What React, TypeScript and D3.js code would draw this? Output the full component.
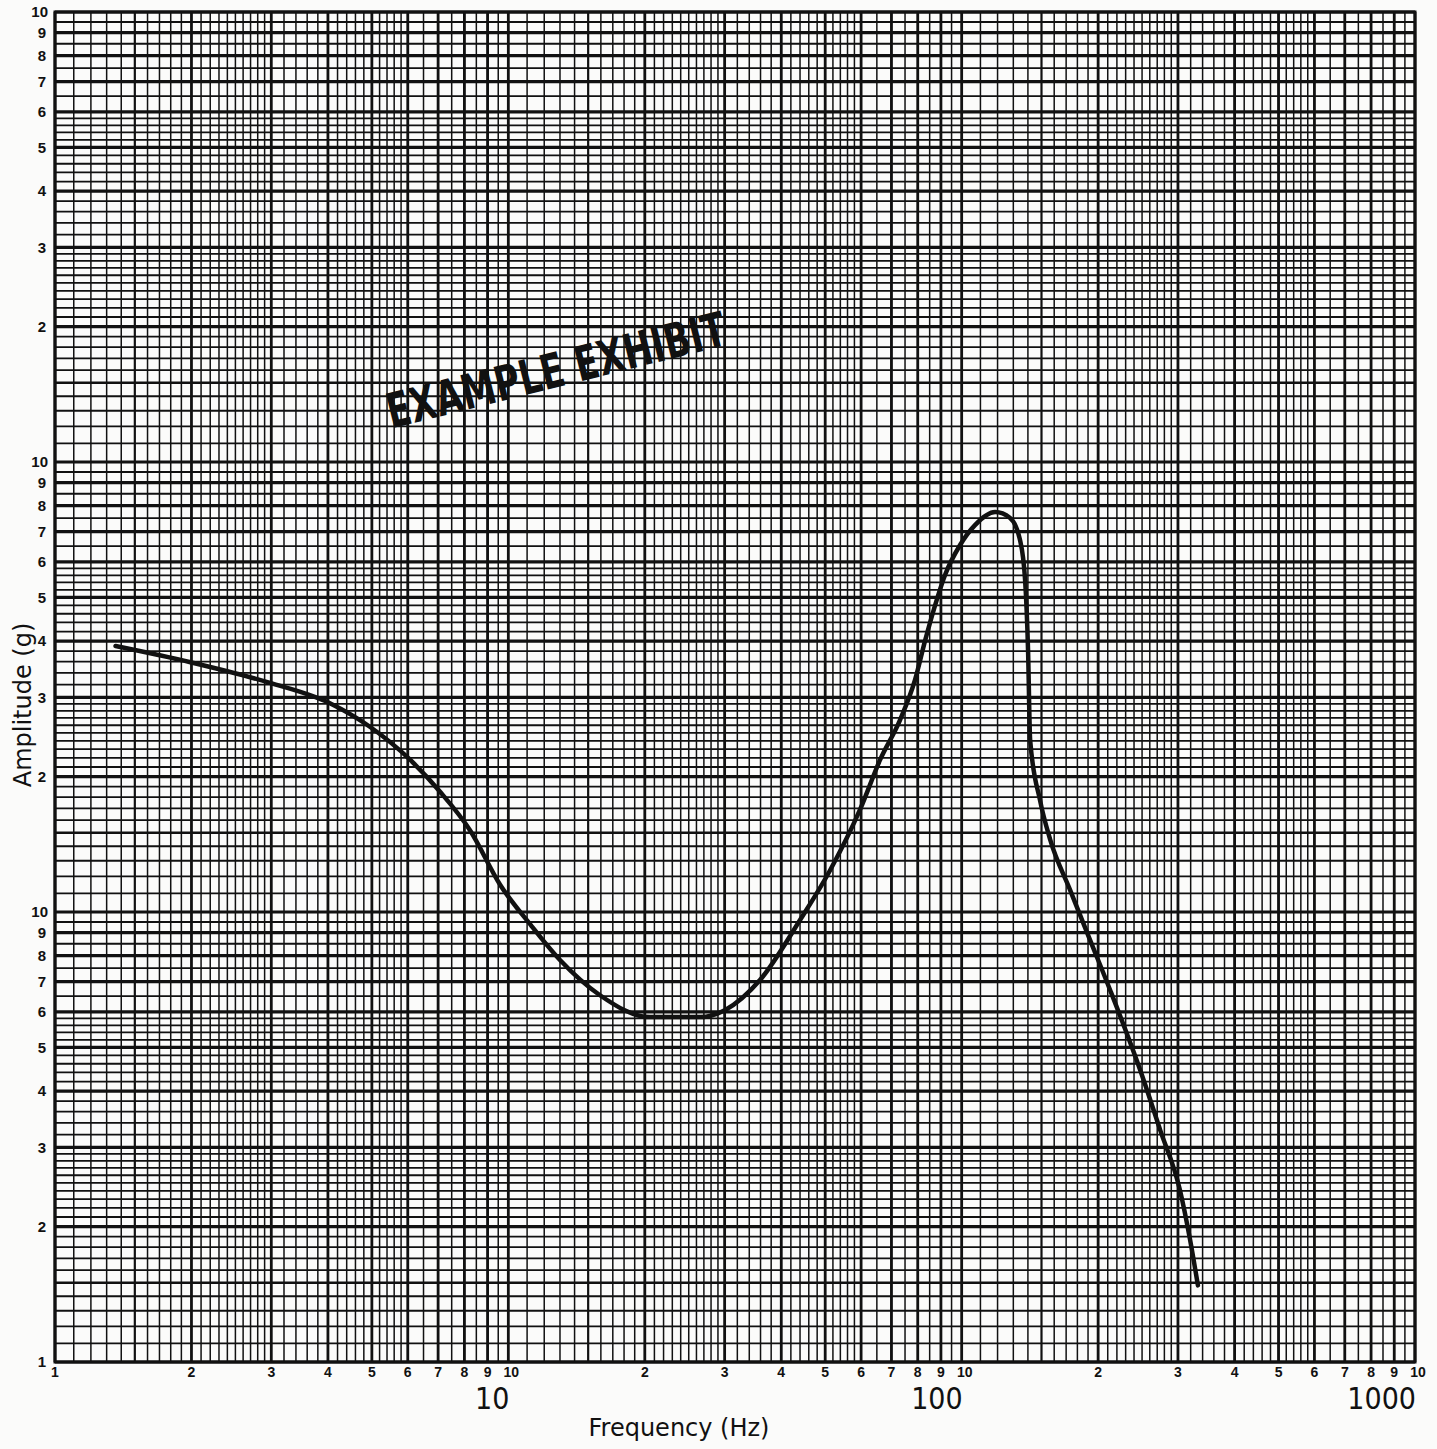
import { scaleLog, line as d3Line, curveMonotoneX, range } from "d3";

// curve
const freq = [
  1.36, 1.99, 2.98, 4.04, 4.95, 6.07, 7.07, 8.23, 9.59, 11.2, 13.0, 15.9, 20.5,
  26.5, 30.1, 35.9, 44.0, 51.3, 59.7, 66.1, 73.1, 78.9, 83.1, 87.4, 91.9, 99.2,
  107, 118.5, 127.9, 134.5, 138, 140.1, 141.6, 148.9, 156.7, 173.4, 192, 212.5,
  247.5, 274, 303, 319, 332,
];
const amplitude = [
  39.0, 35.9, 32.3, 29.1, 25.8, 21.8, 18.5, 15.2, 11.5, 9.36, 7.82, 6.54, 5.84,
  5.84, 6.06, 7.06, 9.6, 12.4, 16.9, 21.8, 26.7, 32.8, 40.2, 48.1, 56.1, 65.4,
  72.4, 77.4, 75.1, 67.1, 54.7, 38.2, 24.1, 17.7, 14.5, 11.2, 8.66, 6.71, 4.46,
  3.28, 2.41, 1.87, 1.48,
];

const decades = [1, 10, 100];
const majorDigits = [1, 2, 3, 4, 5, 6, 7, 8, 9];
const subdivisions: [number, number, number][] = [
  [1, 2, 0.1],
  [2, 3, 0.1],
  [3, 6, 0.2],
  [6, 10, 0.5],
];
const decadeNames = ["10", "100", "1000"];

const W = 1437;
const H = 1449;
const left = 55;
const right = 1415;
const top = 12;
const bottom = 1362;

const majorVals = decades.flatMap((d) => majorDigits.map((m) => m * d)).concat([1000]);
const minorVals = decades.flatMap((d) =>
  subdivisions.flatMap(([a, b, s]) =>
    range(a + s, b - s / 2, s).map((m) => +(m * d).toFixed(4))
  )
);

const mantissa = (v: number) => v / Math.pow(10, Math.floor(Math.log10(v) + 1e-9));
const isPow10 = (v: number) => v > 1 && Math.abs(Math.log10(v) - Math.round(Math.log10(v))) < 1e-9;

export default function App() {
  const x = scaleLog().domain([1, 1000]).range([left, right]);
  const y = scaleLog().domain([1, 1000]).range([bottom, top]);

  const pts = freq.map((f, i) => [f, amplitude[i]] as [number, number]);
  const path =
    d3Line<[number, number]>()
      .x((d) => x(d[0]))
      .y((d) => y(d[1]))
      .curve(curveMonotoneX)(pts) ?? "";

  const ink = "#111";
  const tickFont = "'Liberation Sans', Arial, sans-serif";

  return (
    <div style={{ position: "absolute", left: 0, top: 0 }}>
      <svg width={W} height={H} style={{ display: "block", background: "#fbfbfa" }}>
        {/* minor grid */}
        {minorVals.map((v, i) => {
          const half = Math.abs(mantissa(v) - 1.5) < 1e-6;
          return (
            <g key={`mn-${i}`} stroke={ink}>
              <line x1={x(v)} x2={x(v)} y1={top} y2={bottom} strokeWidth={half ? 2.2 : 1.5} />
              <line x1={left} x2={right} y1={y(v)} y2={y(v)} strokeWidth={half ? 2.4 : 1.8} />
            </g>
          );
        })}
        {/* major grid */}
        {majorVals.map((v, i) => (
          <g key={`mj-${i}`} stroke={ink}>
            <line x1={x(v)} x2={x(v)} y1={top} y2={bottom} strokeWidth={2.8} />
            <line x1={left} x2={right} y1={y(v)} y2={y(v)} strokeWidth={3.2} />
          </g>
        ))}
        <rect x={left} y={top} width={right - left} height={bottom - top} fill="none" stroke={ink} strokeWidth={3} />

        {/* y tick labels */}
        <g fontFamily={tickFont} fontWeight="bold" fontSize={15} fill={ink} textAnchor="end">
          {majorVals.map((v, i) => (
            <text key={`yl-${i}`} x={isPow10(v) ? 48 : 46} y={y(v)} dy="0.36em">
              {isPow10(v) ? "10" : String(Math.round(mantissa(v)))}
            </text>
          ))}
        </g>

        {/* x tick labels */}
        <g fontFamily={tickFont} fontWeight="bold" fontSize={14} fill={ink} textAnchor="middle">
          {majorVals.map((v, i) => (
            <text key={`xl-${i}`} x={isPow10(v) ? x(v) + 3 : x(v)} y={bottom + 15}>
              {isPow10(v) ? "10" : String(Math.round(mantissa(v)))}
            </text>
          ))}
        </g>
        <g fontFamily="'Liberation Sans Narrow', 'DejaVu Sans Condensed', sans-serif" fontSize={30} fill={ink} textAnchor="end">
          {decadeNames.map((name, i) => (
            <text key={name} x={x(Math.pow(10, i + 1)) + 1} y={bottom + 47}>
              {name}
            </text>
          ))}
        </g>

        {/* axis titles */}
        <text
          x={679}
          y={1436}
          textAnchor="middle"
          fontFamily="'DejaVu Sans', sans-serif"
          fontWeight={500}
          fontSize={24}
          fill={ink}
        >
          Frequency (Hz)
        </text>
        <text
          transform="translate(31,705) rotate(-90)"
          textAnchor="middle"
          fontFamily="'DejaVu Sans', sans-serif"
          fontSize={24}
          fill={ink}
        >
          Amplitude (g)
        </text>

        {/* stamp */}
        <text
          transform="translate(556,370) rotate(-14)"
          textAnchor="middle"
          dominantBaseline="central"
          fontFamily="'DejaVu Sans Condensed', 'Liberation Sans Narrow', sans-serif"
          fontWeight="bold"
          fontSize={48}
          textLength={348}
          lengthAdjust="spacingAndGlyphs"
          fill={ink}
        >
          EXAMPLE EXHIBIT
        </text>

        {/* response curve */}
        <path d={path} fill="none" stroke={ink} strokeWidth={4.5} strokeLinecap="round" strokeLinejoin="round" />
      </svg>
    </div>
  );
}
